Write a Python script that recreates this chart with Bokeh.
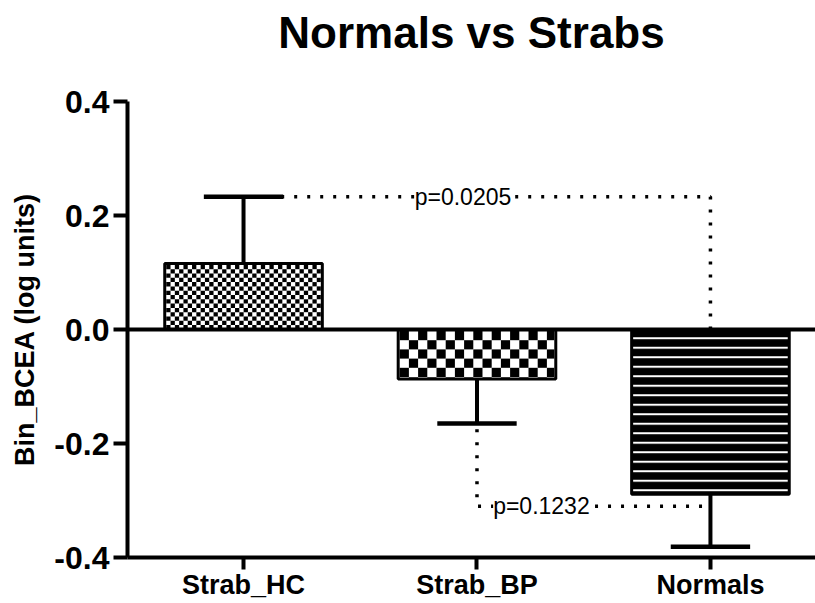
from bokeh.plotting import figure
from bokeh.models import Range1d, FixedTicker, NumeralTickFormatter, Span, Label, Title
from bokeh.embed import file_html
from bokeh.resources import INLINE

# ---- data ----
categories = ["Strab_HC", "Strab_BP", "Normals"]
means = [0.116, -0.087, -0.289]
sems = [0.117, 0.078, 0.092]
p_values = ["p=0.0205", "p=0.1232"]
y_ticks = [-0.4, -0.2, 0.0, 0.2, 0.4]
title = "Normals vs Strabs"
y_label = "Bin_BCEA (log units)"

FONT = "Liberation Sans"
xs = [i + 1 for i in range(len(categories))]

W, H = 815, 603
FL, FR, FT, FB = 127, 815, 101, 557          # frame edges in pixels
X0, X1, Y0, Y1 = 0.503, 3.45, -0.4, 0.4
PX_X = (FR - FL) / (X1 - X0)                  # pixels per data unit
PX_Y = (FB - FT) / (Y1 - Y0)

p = figure(width=W, height=H, output_backend="svg", toolbar_location=None,
           title=None,
           x_range=Range1d(X0, X1), y_range=Range1d(Y0, Y1),
           min_border_left=FL, min_border_right=W - FR, min_border_top=FT,
           min_border_bottom=H - FB)
p.outline_line_color = None
p.xgrid.visible = False
p.ygrid.visible = False
p.background_fill_color = "white"
p.border_fill_color = "white"

# spacer panel between title and frame, then the title itself
p.add_layout(Title(text=" ", text_font_size="25px", text_font=FONT), "above")
p.add_layout(Title(text=title, text_font=FONT, text_font_style="bold",
                   text_font_size="44px", text_color="black", align="center"), "above")

bar_w = 0.675


def checker(left, right, bottom, top, cell_px, inset_px=1.5):
    """Checkerboard texture squares clipped to a bar's interior."""
    cw, ch = cell_px / PX_X, cell_px / PX_Y
    l0, r0 = left + inset_px / PX_X, right - inset_px / PX_X
    b0, t0 = bottom + inset_px / PX_Y, top - inset_px / PX_Y
    L, R, B, T = [], [], [], []
    j = 0
    y = t0
    while y > b0:
        i = 0
        x = l0
        while x < r0:
            if (i + j) % 2 == 0:
                L.append(x); R.append(min(x + cw, r0))
                T.append(y); B.append(max(y - ch, b0))
            x += cw
            i += 1
        y -= ch
        j += 1
    return dict(left=L, right=R, bottom=B, top=T)


cells = [4.3, 9.2, None]
for x, m, c in zip(xs, means, cells):
    lo, hi = min(m, 0), max(m, 0)
    left, right = x - bar_w / 2, x + bar_w / 2
    if c is None:
        p.vbar(x=[x], top=[hi], bottom=[lo], width=bar_w, fill_color="black",
               line_color=None, hatch_pattern="horizontal_line", hatch_color="white",
               hatch_scale=9.5, hatch_weight=2)
    else:
        p.vbar(x=[x], top=[hi], bottom=[lo], width=bar_w, fill_color="white",
               line_color=None)
        p.quad(line_color=None, fill_color="black", **checker(left, right, lo, hi, c))
    p.vbar(x=[x], top=[hi], bottom=[lo], width=bar_w, fill_color=None,
           line_color="black", line_width=3)

cap_w = 0.34
for x, m, e in zip(xs, means, sems):
    end = m + e if m > 0 else m - e
    p.segment(x0=[x], y0=[m], x1=[x], y1=[end], line_color="black", line_width=4)
    p.segment(x0=[x - cap_w / 2], y0=[end], x1=[x + cap_w / 2], y1=[end],
              line_color="black", line_width=4.5)

p.add_layout(Span(location=0, dimension="width", line_color="black", line_width=4))

hc_top = means[0] + sems[0]
bp_bot = means[1] - sems[1]
br_low = -0.31
dot = dict(line_color="black", line_width=3.5, line_dash="3 10")
p.line(x=[xs[0] + 0.05, xs[2], xs[2]], y=[hc_top, hc_top, 0.0], **dot)
p.line(x=[xs[1], xs[1], xs[2]], y=[bp_bot - 0.01, br_low, br_low], **dot)

for lx, ly, txt in [(1.94, hc_top, p_values[0]), (2.276, br_low, p_values[1])]:
    p.add_layout(Label(x=lx, y=ly, text=txt, text_font=FONT, text_color="black",
                       text_font_size="23px", text_align="center",
                       text_baseline="middle", background_fill_color="white"))

ya = p.yaxis[0]
ya.ticker = FixedTicker(ticks=y_ticks)
ya.formatter = NumeralTickFormatter(format="0.0")
ya.axis_line_width = 4
ya.major_tick_line_width = 4
ya.major_tick_out = 14
ya.major_tick_in = 0
ya.minor_tick_line_color = None
ya.major_label_text_font = FONT
ya.major_label_text_font_style = "bold"
ya.major_label_text_font_size = "32px"
ya.major_label_text_color = "black"
ya.major_label_standoff = 4
ya.axis_label = y_label
ya.axis_label_text_font = FONT
ya.axis_label_text_font_style = "bold"
ya.axis_label_text_font_size = "27px"
ya.axis_label_text_color = "black"
ya.axis_label_standoff = 11

xa = p.xaxis[0]
xa.ticker = FixedTicker(ticks=xs)
xa.major_label_overrides = {x: c for x, c in zip(xs, categories)}
xa.axis_line_width = 4
xa.major_tick_line_width = 4
xa.major_tick_out = 12
xa.major_tick_in = 0
xa.minor_tick_line_color = None
xa.major_label_text_font = FONT
xa.major_label_text_font_style = "bold"
xa.major_label_text_font_size = "27px"
xa.major_label_text_line_height = 1.0
xa.major_label_text_color = "black"
xa.major_label_standoff = 0

open("out.html", "w").write(file_html(p, INLINE))
